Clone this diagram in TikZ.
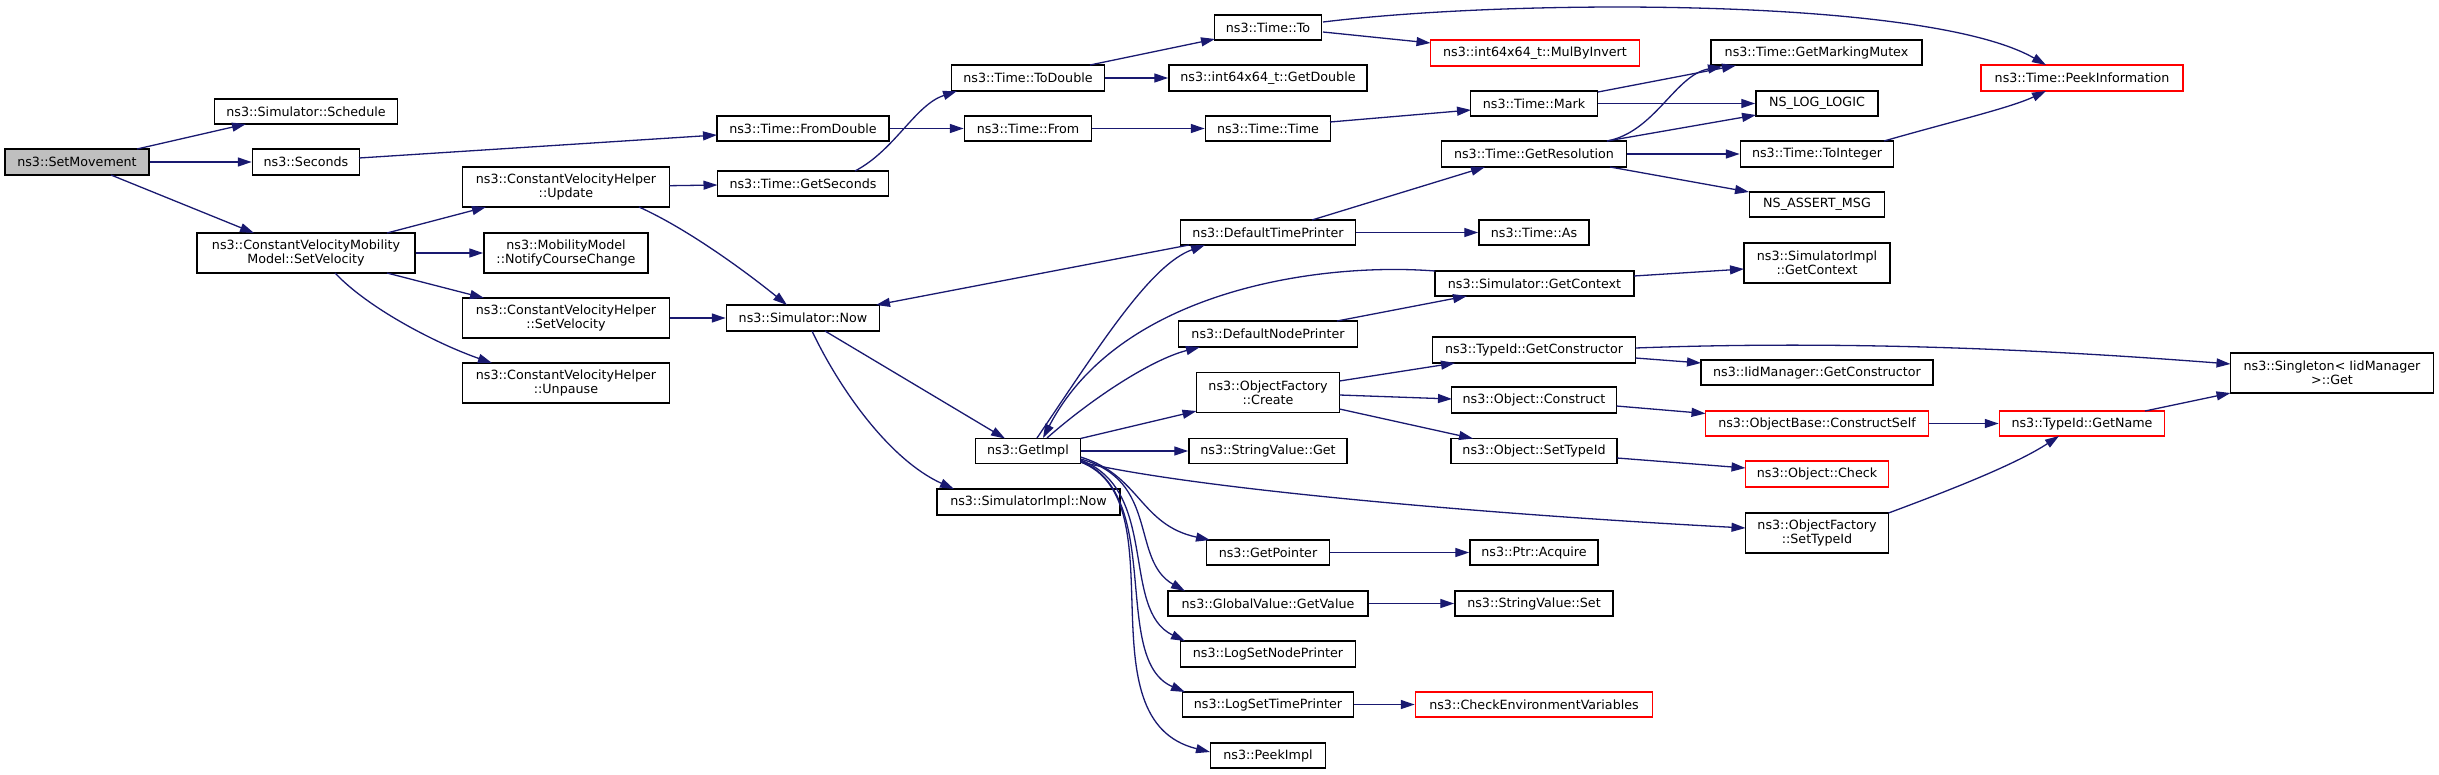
\documentclass[tikz,border=0pt]{standalone}
\usepackage{fontspec}
\setmainfont{DejaVu Sans}
\usetikzlibrary{arrows.meta}
\definecolor{edgeblue}{HTML}{191970}
\definecolor{rootgray}{HTML}{BFBFBF}
\definecolor{trunc}{HTML}{FF0000}
\begin{document}
\begin{tikzpicture}[x=1pt,y=-1pt,
  box/.style={draw=black, line width=1.5pt, fill=white, rectangle, inner sep=0pt, align=center, font=\fontsize{12.7}{14}\selectfont},
  redbox/.style={box, draw=trunc},
  rootbox/.style={box, fill=rootgray},
  call/.style={draw=edgeblue, line width=1.3pt, -{Triangle[length=14pt,width=9pt]}, fill=none},
  ]
\useasboundingbox (0,0) rectangle (2439,774);
% column 1
\node[rootbox,minimum width=144pt,minimum height=26pt] (sm) at (77,162) {ns3::SetMovement};
% column 2
\node[box,minimum width=183pt,minimum height=25pt] (sched) at (306,111.5) {ns3::Simulator::Schedule};
\node[box,minimum width=107pt,minimum height=26pt] (sec) at (306,162) {ns3::Seconds};
\node[box,minimum width=218pt,minimum height=40pt] (cvmm) at (306,253) {ns3::ConstantVelocityMobility\\Model::SetVelocity};
% column 3
\node[box,minimum width=207pt,minimum height=40pt] (upd) at (566,187) {ns3::ConstantVelocityHelper\\::Update};
\node[box,minimum width=164pt,minimum height=40pt] (ncc) at (566,253) {ns3::MobilityModel\\::NotifyCourseChange};
\node[box,minimum width=207pt,minimum height=40pt] (cvhsv) at (566,318) {ns3::ConstantVelocityHelper\\::SetVelocity};
\node[box,minimum width=207pt,minimum height=40pt] (unp) at (566,383) {ns3::ConstantVelocityHelper\\::Unpause};
% column 4
\node[box,minimum width=172pt,minimum height=25pt] (fromd) at (803,128.5) {ns3::Time::FromDouble};
\node[box,minimum width=171pt,minimum height=25pt] (gets) at (803,183.5) {ns3::Time::GetSeconds};
\node[box,minimum width=153pt,minimum height=26pt] (now) at (803,318) {ns3::Simulator::Now};
% column 5
\node[box,minimum width=153pt,minimum height=26pt] (todbl) at (1028,78) {ns3::Time::ToDouble};
\node[box,minimum width=127pt,minimum height=25pt] (from) at (1028,128.5) {ns3::Time::From};
\node[box,minimum width=105pt,minimum height=25pt] (impl) at (1028,451) {ns3::GetImpl};
\node[box,minimum width=183pt,minimum height=26pt] (simnow) at (1028.5,502) {ns3::SimulatorImpl::Now};
% column 6
\node[box,minimum width=107pt,minimum height=25pt] (to) at (1268,27.5) {ns3::Time::To};
\node[box,minimum width=198pt,minimum height=26pt] (getd) at (1268,78) {ns3::int64x64\_t::GetDouble};
\node[box,minimum width=125pt,minimum height=25pt] (ttime) at (1268,128.5) {ns3::Time::Time};
\node[box,minimum width=175pt,minimum height=25pt] (dtp) at (1268,232.5) {ns3::DefaultTimePrinter};
\node[box,minimum width=179pt,minimum height=26pt] (dnp) at (1268,334) {ns3::DefaultNodePrinter};
\node[box,minimum width=143pt,minimum height=40pt] (create) at (1268,392.5) {ns3::ObjectFactory\\::Create};
\node[box,minimum width=158pt,minimum height=25pt] (svget) at (1268,451) {ns3::StringValue::Get};
\node[box,minimum width=123pt,minimum height=25pt] (gptr) at (1268,552.5) {ns3::GetPointer};
\node[box,minimum width=200pt,minimum height=25pt] (gval) at (1268,603.5) {ns3::GlobalValue::GetValue};
\node[box,minimum width=175pt,minimum height=26pt] (lsnp) at (1268,654) {ns3::LogSetNodePrinter};
\node[box,minimum width=171pt,minimum height=25pt] (lstp) at (1268,704.5) {ns3::LogSetTimePrinter};
\node[box,minimum width=115pt,minimum height=25pt] (pimpl) at (1268,755.5) {ns3::PeekImpl};
% column 7
\node[redbox,minimum width=209pt,minimum height=26pt] (mul) at (1535,53) {ns3::int64x64\_t::MulByInvert};
\node[box,minimum width=127pt,minimum height=25pt] (mark) at (1534,103.5) {ns3::Time::Mark};
\node[box,minimum width=185pt,minimum height=26pt] (res) at (1534,154) {ns3::Time::GetResolution};
\node[box,minimum width=110pt,minimum height=25pt] (as) at (1534,232.5) {ns3::Time::As};
\node[box,minimum width=199pt,minimum height=25pt] (gctx) at (1534.5,283.5) {ns3::Simulator::GetContext};
\node[box,minimum width=203pt,minimum height=26pt] (gcons) at (1534,350) {ns3::TypeId::GetConstructor};
\node[box,minimum width=165pt,minimum height=26pt] (construct) at (1534,400) {ns3::Object::Construct};
\node[box,minimum width=166pt,minimum height=25pt] (setid) at (1534,451) {ns3::Object::SetTypeId};
\node[box,minimum width=128pt,minimum height=25pt] (acq) at (1534,552.5) {ns3::Ptr::Acquire};
\node[box,minimum width=158pt,minimum height=25pt] (svset) at (1534,603.5) {ns3::StringValue::Set};
\node[redbox,minimum width=237pt,minimum height=25pt] (cev) at (1534,704.5) {ns3::CheckEnvironmentVariables};
% column 8
\node[box,minimum width=211pt,minimum height=25pt] (mutex) at (1816.5,52.5) {ns3::Time::GetMarkingMutex};
\node[box,minimum width=122pt,minimum height=25pt] (log) at (1817,103.5) {NS\_LOG\_LOGIC};
\node[box,minimum width=153pt,minimum height=26pt] (toint) at (1817,154) {ns3::Time::ToInteger};
\node[box,minimum width=135pt,minimum height=25pt] (assert) at (1817,204.5) {NS\_ASSERT\_MSG};
\node[box,minimum width=146pt,minimum height=40pt] (sigctx) at (1817,263) {ns3::SimulatorImpl\\::GetContext};
\node[box,minimum width=232pt,minimum height=25pt] (iidgc) at (1817,372.5) {ns3::IidManager::GetConstructor};
\node[redbox,minimum width=223pt,minimum height=25pt] (cself) at (1817,423.5) {ns3::ObjectBase::ConstructSelf};
\node[redbox,minimum width=143pt,minimum height=26pt] (check) at (1817,474) {ns3::Object::Check};
\node[box,minimum width=143pt,minimum height=40pt] (ofsid) at (1817,533) {ns3::ObjectFactory\\::SetTypeId};
% column 9
\node[redbox,minimum width=202pt,minimum height=26pt] (peek) at (2082,78) {ns3::Time::PeekInformation};
\node[redbox,minimum width=165pt,minimum height=25pt] (gname) at (2082,423.5) {ns3::TypeId::GetName};
% column 10
\node[box,minimum width=203pt,minimum height=40pt] (single) at (2332,373) {ns3::Singleton< IidManager\\ >::Get};

% edges
\draw[call] ([shift={(60,-13)}]sm.center) -- ([shift={(-60,12.5)}]sched.center);
\draw[call] (sm.east) -- (sec.west);
\draw[call] ([shift={(34,13)}]sm.center) -- ([shift={(-52,-20)}]cvmm.center);
\draw[call] ([shift={(53,-4)}]sec.center) -- ([shift={(-86,6.5)}]fromd.center);
\draw[call] (fromd.east) -- (from.west);
\draw[call] (from.east) -- (ttime.west);
\draw[call] ([shift={(62,-6.5)}]ttime.center) -- ([shift={(-63,6.5)}]mark.center);
\draw[call] ([shift={(64,-11.5)}]mark.center) -- ([shift={(-80.5,13)}]mutex.center);
\draw[call] (mark.east) -- (log.west);
\draw[call] ([shift={(73,-13)}]res.center) .. controls (1655,132) and (1675,75) .. ([shift={(-94.5,14)}]mutex.center);
\draw[call] ([shift={(73,-13)}]res.center) -- ([shift={(-61,11.5)}]log.center);
\draw[call] (res.east) -- (toint.west);
\draw[call] ([shift={(76,13)}]res.center) -- ([shift={(-68,-12.5)}]assert.center);
\draw[call] ([shift={(67,-13)}]toint.center) .. controls (1950,122) and (2010,108) .. ([shift={(-36,13)}]peek.center);
\draw[call] ([shift={(55,-5.5)}]to.center) .. controls (1520,-2) and (1930,-2) .. ([shift={(-36,-13)}]peek.center);
\draw[call] ([shift={(55,4.5)}]to.center) -- ([shift={(-104.5,-10)}]mul.center);
\draw[call] ([shift={(62,-13)}]todbl.center) -- ([shift={(-53,11.5)}]to.center);
\draw[call] (todbl.east) -- (getd.west);
\draw[call] ([shift={(52,-12.5)}]gets.center) .. controls (895,150) and (915,105) .. ([shift={(-71,13)}]todbl.center);
\draw[call] ([shift={(81,-20)}]cvmm.center) -- ([shift={(-80,20)}]upd.center);
\draw[call] (cvmm.east) -- (ncc.west);
\draw[call] ([shift={(81,20)}]cvmm.center) -- ([shift={(-82,-20)}]cvhsv.center);
\draw[call] ([shift={(29,20)}]cvmm.center) .. controls (370,310) and (440,345) .. ([shift={(-74,-20)}]unp.center);
\draw[call] ([shift={(103.5,-1.3)}]upd.center) -- ([shift={(-85.5,1.5)}]gets.center);
\draw[call] ([shift={(73,20)}]upd.center) .. controls (690,230) and (750,275) .. ([shift={(-16,-13)}]now.center);
\draw[call] (cvhsv.east) -- (now.west);
\draw[call] ([shift={(-79,12.5)}]dtp.center) -- ([shift={(73,-13)}]now.center);
\draw[call] ([shift={(9,-13)}]impl.center) .. controls (1100,345) and (1150,265) .. ([shift={(-63,12.5)}]dtp.center);
\draw[call] ([shift={(-99.5,-12.5)}]gctx.center) .. controls (1320,262) and (1120,290) .. ([shift={(15,-13)}]impl.center);
\draw[call] ([shift={(19,-13)}]impl.center) .. controls (1090,400) and (1150,360) .. ([shift={(-68,13)}]dnp.center);
\draw[call] ([shift={(69,-13)}]dnp.center) -- ([shift={(-67.5,12.5)}]gctx.center);
\draw[call] ([shift={(99.5,-7.5)}]gctx.center) -- ([shift={(-73,6)}]sigctx.center);
\draw[call] ([shift={(44,-12.5)}]dtp.center) -- ([shift={(-49,13)}]res.center);
\draw[call] (dtp.east) -- (as.west);
\draw[call] ([shift={(22,13)}]now.center) -- ([shift={(-23,-12.5)}]impl.center);
\draw[call] ([shift={(9,13)}]now.center) .. controls (840,390) and (890,460) .. ([shift={(-74.5,-13)}]simnow.center);
\draw[call] ([shift={(52.5,-12.5)}]impl.center) -- ([shift={(-71.5,18.5)}]create.center);
\draw[call] ([shift={(71.5,-11.5)}]create.center) -- ([shift={(-79,13)}]gcons.center);
\draw[call] ([shift={(71.5,2.5)}]create.center) -- ([shift={(-82,-1)}]construct.center);
\draw[call] ([shift={(71.5,16.5)}]create.center) -- ([shift={(-61,-12.5)}]setid.center);
\draw[call] ([shift={(101.5,8)}]gcons.center) -- ([shift={(-116,-9.5)}]iidgc.center);
\draw[call] ([shift={(101.5,-2)}]gcons.center) .. controls (1850,340) and (2050,350) .. ([shift={(-101.5,-9)}]single.center);
\draw[call] ([shift={(82.5,6)}]construct.center) -- ([shift={(-111.5,-10)}]cself.center);
\draw[call] ([shift={(83,7)}]setid.center) -- ([shift={(-71.5,-6)}]check.center);
\draw[call] (cself.east) -- (gname.west);
\draw[call] ([shift={(71.5,-20)}]ofsid.center) .. controls (1945,492) and (2015,465) .. ([shift={(-23,12.5)}]gname.center);
\draw[call] ([shift={(63,-12.5)}]gname.center) -- ([shift={(-101.5,20)}]single.center);
\draw[call] (impl.east) -- (svget.west);
\draw[call] ([shift={(52.5,11)}]impl.center) .. controls (1200,490) and (1500,515) .. ([shift={(-71.5,-5)}]ofsid.center);
\draw[call] ([shift={(52.5,6)}]impl.center) .. controls (1140,475) and (1140,525) .. ([shift={(-58,-12.5)}]gptr.center);
\draw[call] ([shift={(52.5,8)}]impl.center) .. controls (1160,480) and (1130,560) .. ([shift={(-83,-12.5)}]gval.center);
\draw[call] ([shift={(52.5,9)}]impl.center) .. controls (1160,490) and (1120,610) .. ([shift={(-83,-13)}]lsnp.center);
\draw[call] ([shift={(52.5,10)}]impl.center) .. controls (1165,495) and (1110,660) .. ([shift={(-83,-12.5)}]lstp.center);
\draw[call] ([shift={(52.5,11)}]impl.center) .. controls (1180,500) and (1080,720) .. ([shift={(-58,-3.5)}]pimpl.center);
\draw[call] (gptr.east) -- (acq.west);
\draw[call] (gval.east) -- (svset.west);
\draw[call] (lstp.east) -- (cev.west);
\end{tikzpicture}
\end{document}
